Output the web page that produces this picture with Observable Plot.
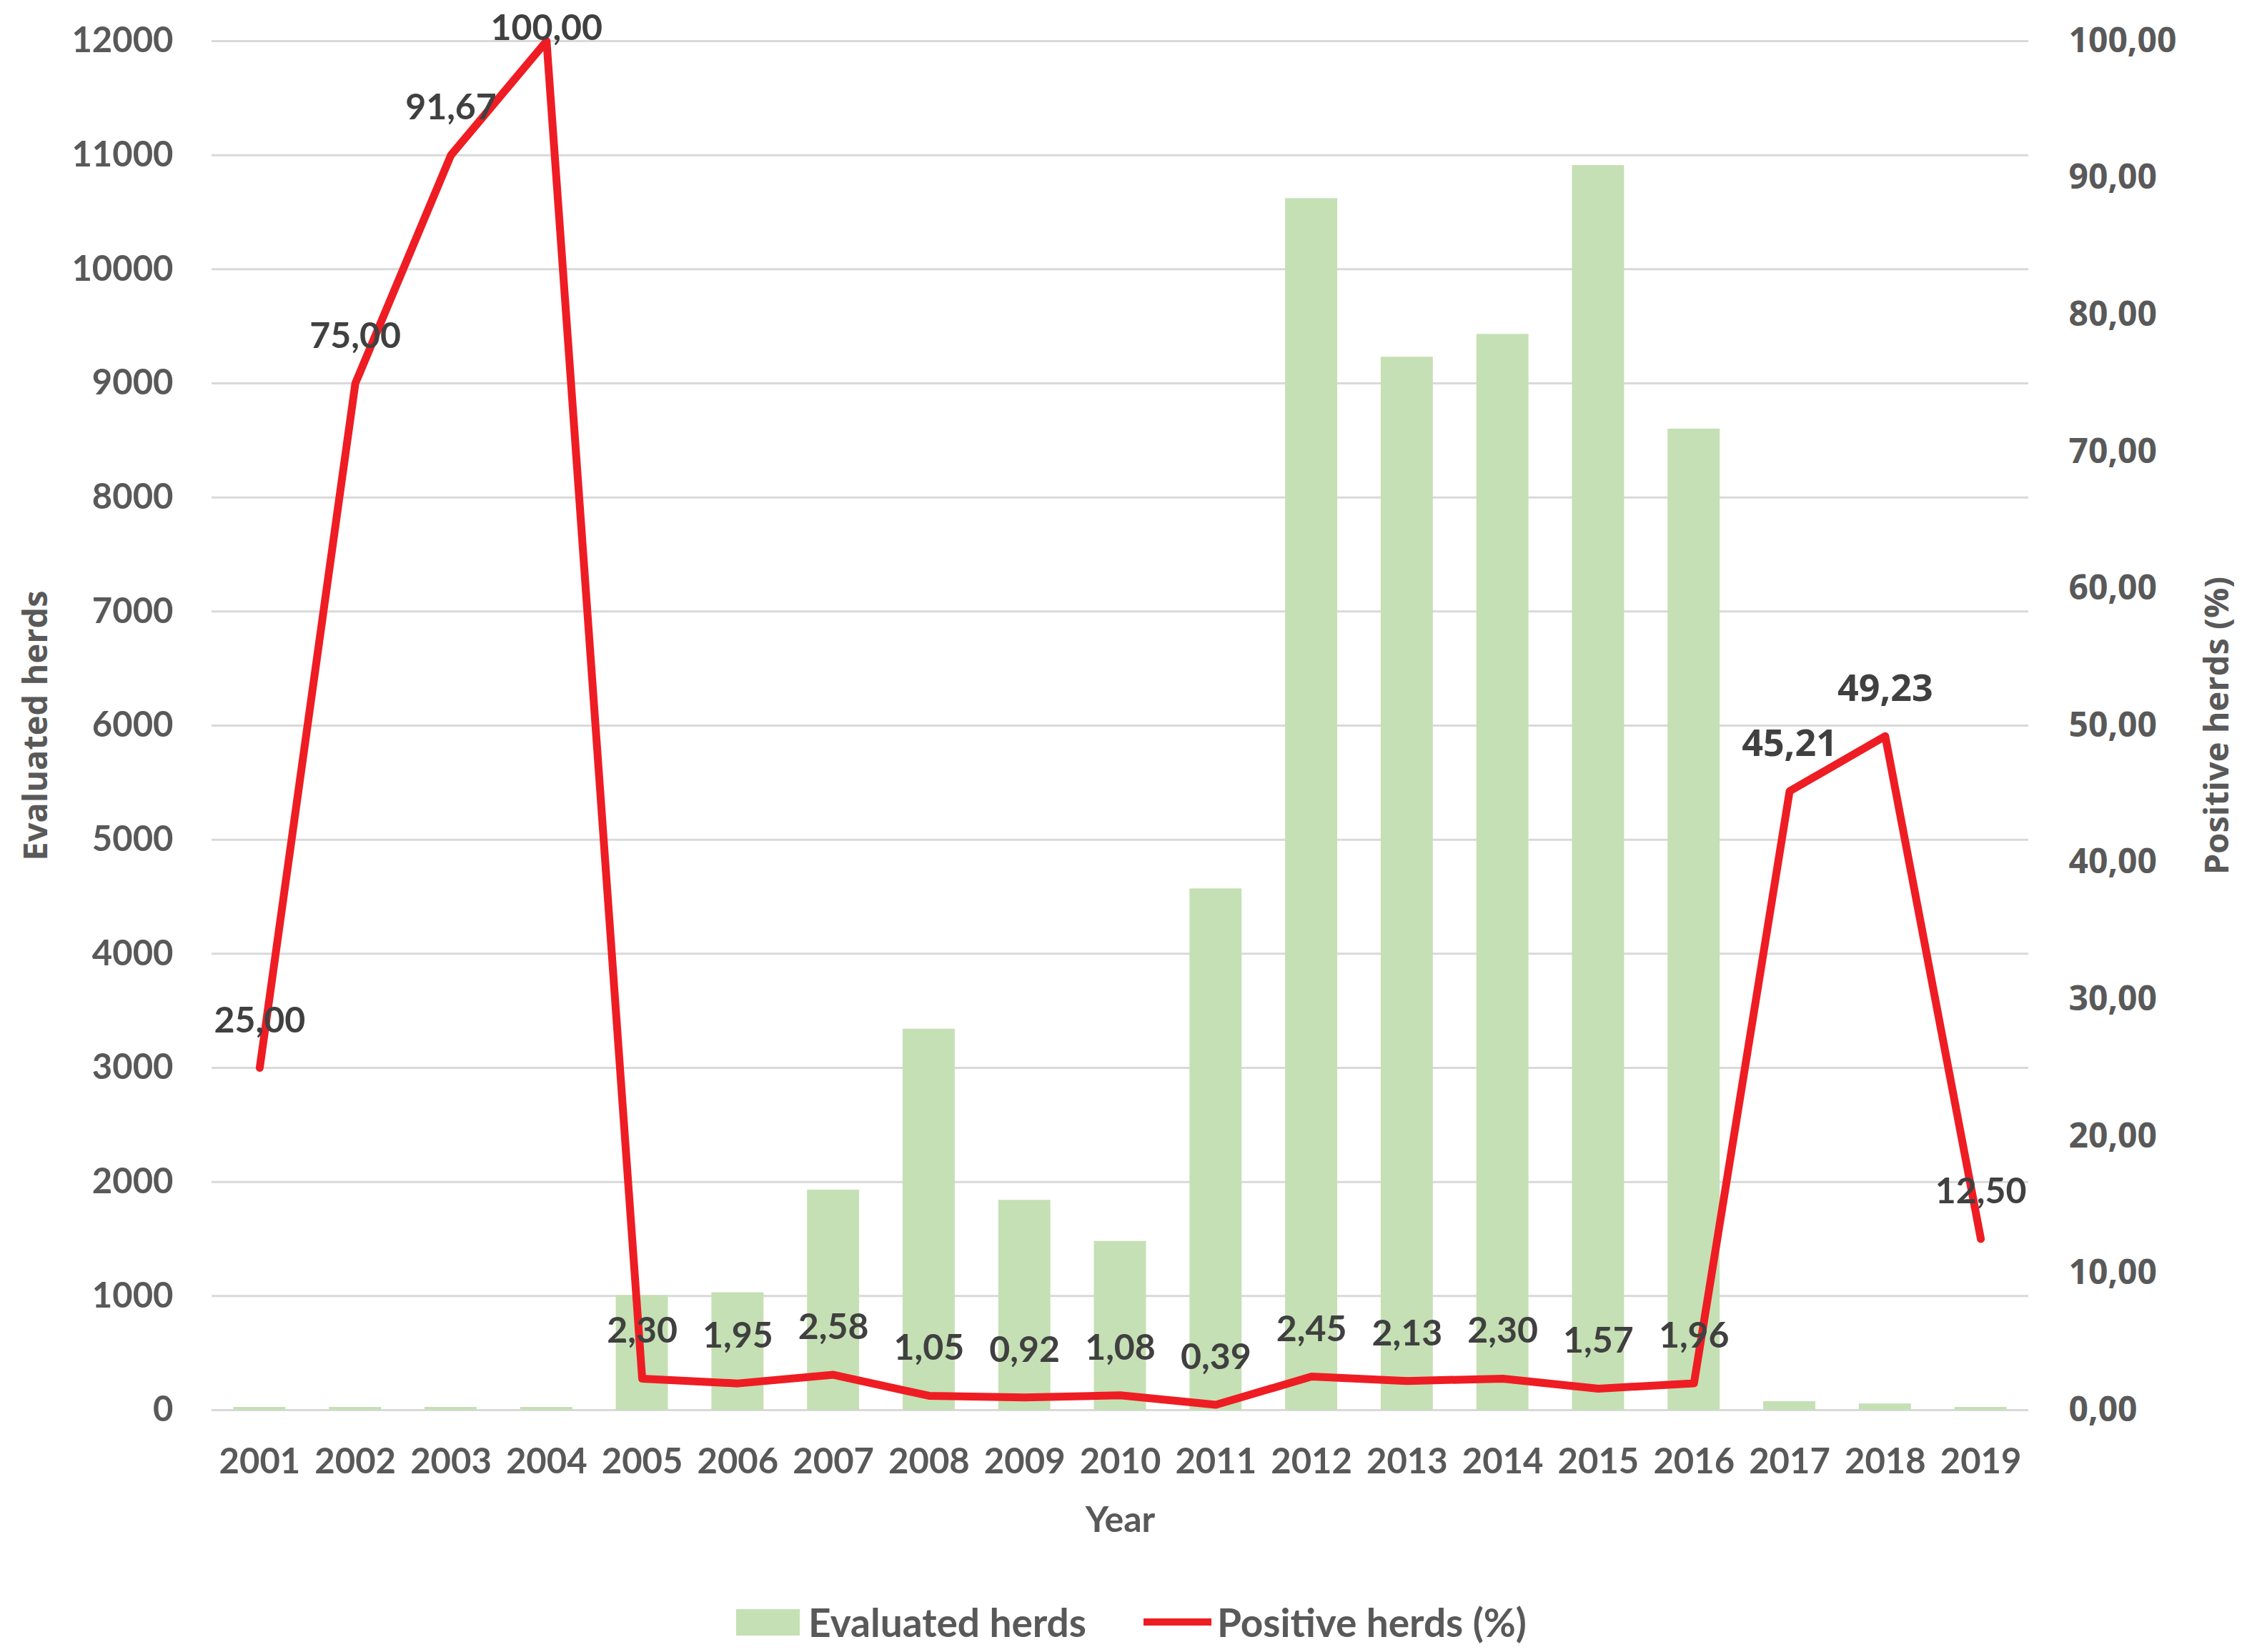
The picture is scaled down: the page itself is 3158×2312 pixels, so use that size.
<!DOCTYPE html>
<html>
<head>
<meta charset="utf-8">
<script src="https://cdn.jsdelivr.net/npm/d3@7"></script>
<script src="https://cdn.jsdelivr.net/npm/@observablehq/plot@0.6"></script>
<style>
  html, body { margin: 0; padding: 0; background: #ffffff; }
  #legend {
    width: 3158px; height: 122px; padding-top: 38px; box-sizing: border-box;
    display: flex; justify-content: center; align-items: center;
    font-family: Lato, 'Open Sans', sans-serif;
    font-weight: bold; font-size: 55px; color: #595959; padding-left: 8px;
  }
  .sw-bar { width: 89px; height: 37px; background: #C5E0B4; margin-right: 12px; }
  .sw-line { width: 95px; height: 10px; background: #EE1D23; margin-right: 8px; margin-left: 80px; }
</style>
</head>
<body>
<div id="chart"></div>
<div id="legend">
  <div class="sw-bar"></div><span>Evaluated herds</span>
  <div class="sw-line"></div><span>Positive herds (%)</span>
</div>
<script>
const years = ["2001","2002","2003","2004","2005","2006","2007","2008","2009","2010","2011","2012","2013","2014","2015","2016","2017","2018","2019"];
const evaluatedHerds = [25, 25, 25, 25, 1005, 1030, 1930, 3340, 1840, 1480, 4570, 10620, 9230, 9430, 10910, 8600, 75, 55, 25];
const positiveHerdsPct = [25.00, 75.00, 91.67, 100.00, 2.30, 1.95, 2.58, 1.05, 0.92, 1.08, 0.39, 2.45, 2.13, 2.30, 1.57, 1.96, 45.21, 49.23, 12.50];
const leftTicks = [0, 1000, 2000, 3000, 4000, 5000, 6000, 7000, 8000, 9000, 10000, 11000, 12000];
const rightTicks = [0, 10, 20, 30, 40, 50, 60, 70, 80, 90, 100];
const wideLabelYears = ["2017", "2018"];
const topLabelYears = ["2004"];

const leftMax = 12000, rightMax = 100;
const k = leftMax / rightMax; // secondary axis factor
const fmt = v => v.toFixed(2).replace(".", ",");

const rows = years.map((year, i) => ({year, herds: evaluatedHerds[i], pct: positiveHerdsPct[i]}));

const narrow = "Lato, 'Open Sans', sans-serif";
const wide = "'Open Sans', 'DejaVu Sans', sans-serif";
const labelFill = "#404040";

const normalRows = rows.filter(d => !wideLabelYears.includes(d.year) && !topLabelYears.includes(d.year));
const wideRows = rows.filter(d => wideLabelYears.includes(d.year));
const topRows = rows.filter(d => topLabelYears.includes(d.year));

const chart = Plot.plot({
  width: 3158,
  height: 2190,
  marginLeft: 296,
  marginRight: 320,
  marginTop: 57,
  marginBottom: 217,
  style: {fontFamily: narrow, background: "#ffffff", color: "#595959", overflow: "visible"},
  x: {type: "band", domain: years, paddingInner: 0.455, paddingOuter: 0.2275, round: false, label: null},
  y: {domain: [0, leftMax], label: null},
  marks: [
    Plot.gridY(leftTicks, {stroke: "#D9D9D9", strokeOpacity: 1, strokeWidth: 3}),
    Plot.barY(rows, {x: "year", y: "herds", fill: "#C5E0B4"}),
    Plot.line(rows, {x: "year", y: d => d.pct * k, stroke: "#EE1D23", strokeWidth: 11, strokeLinejoin: "round", strokeLinecap: "round"}),
    Plot.text(normalRows, {x: "year", y: d => d.pct * k, text: d => fmt(d.pct), dy: -66, fontSize: 50, fontWeight: "bold", fill: labelFill, fontFamily: narrow}),
    Plot.text(topRows, {x: "year", y: d => d.pct * k, text: d => fmt(d.pct), dy: -18, fontSize: 50, fontWeight: "bold", fill: labelFill, fontFamily: narrow}),
    Plot.text(wideRows, {x: "year", y: d => d.pct * k, text: d => fmt(d.pct), dy: -66, fontSize: 52, fontWeight: "bold", fill: labelFill, fontFamily: wide}),
    Plot.axisY({ticks: leftTicks, tickSize: 0, tickPadding: 54, tickFormat: d => String(d), fontSize: 49, fontWeight: "bold", fontFamily: narrow, label: null}),
    Plot.axisY({anchor: "right", ticks: rightTicks.map(v => v * k), tickSize: 0, tickPadding: 56, tickFormat: d => fmt(d / k), fontSize: 48, fontWeight: "bold", fontFamily: wide, label: null}),
    Plot.axisX({tickSize: 0, tickPadding: 54, fontSize: 49, fontWeight: "bold", fontFamily: narrow, label: null}),
    Plot.text(["Year"], {text: d => d, frameAnchor: "bottom", lineAnchor: "middle", textAnchor: "middle", dy: 154, fontSize: 50, fontWeight: "bold", fill: "#595959", fontFamily: narrow}),
    Plot.text(["Evaluated herds"], {text: d => d, frameAnchor: "left", lineAnchor: "middle", textAnchor: "middle", rotate: -90, dx: -246, fontSize: 47, fontWeight: "bold", fill: "#595959", fontFamily: wide}),
    Plot.text(["Positive herds (%)"], {text: d => d, frameAnchor: "right", lineAnchor: "middle", textAnchor: "middle", rotate: -90, dx: 264, fontSize: 47, fontWeight: "bold", fill: "#595959", fontFamily: wide})
  ]
});
document.getElementById("chart").appendChild(chart);
</script>
</body>
</html>
